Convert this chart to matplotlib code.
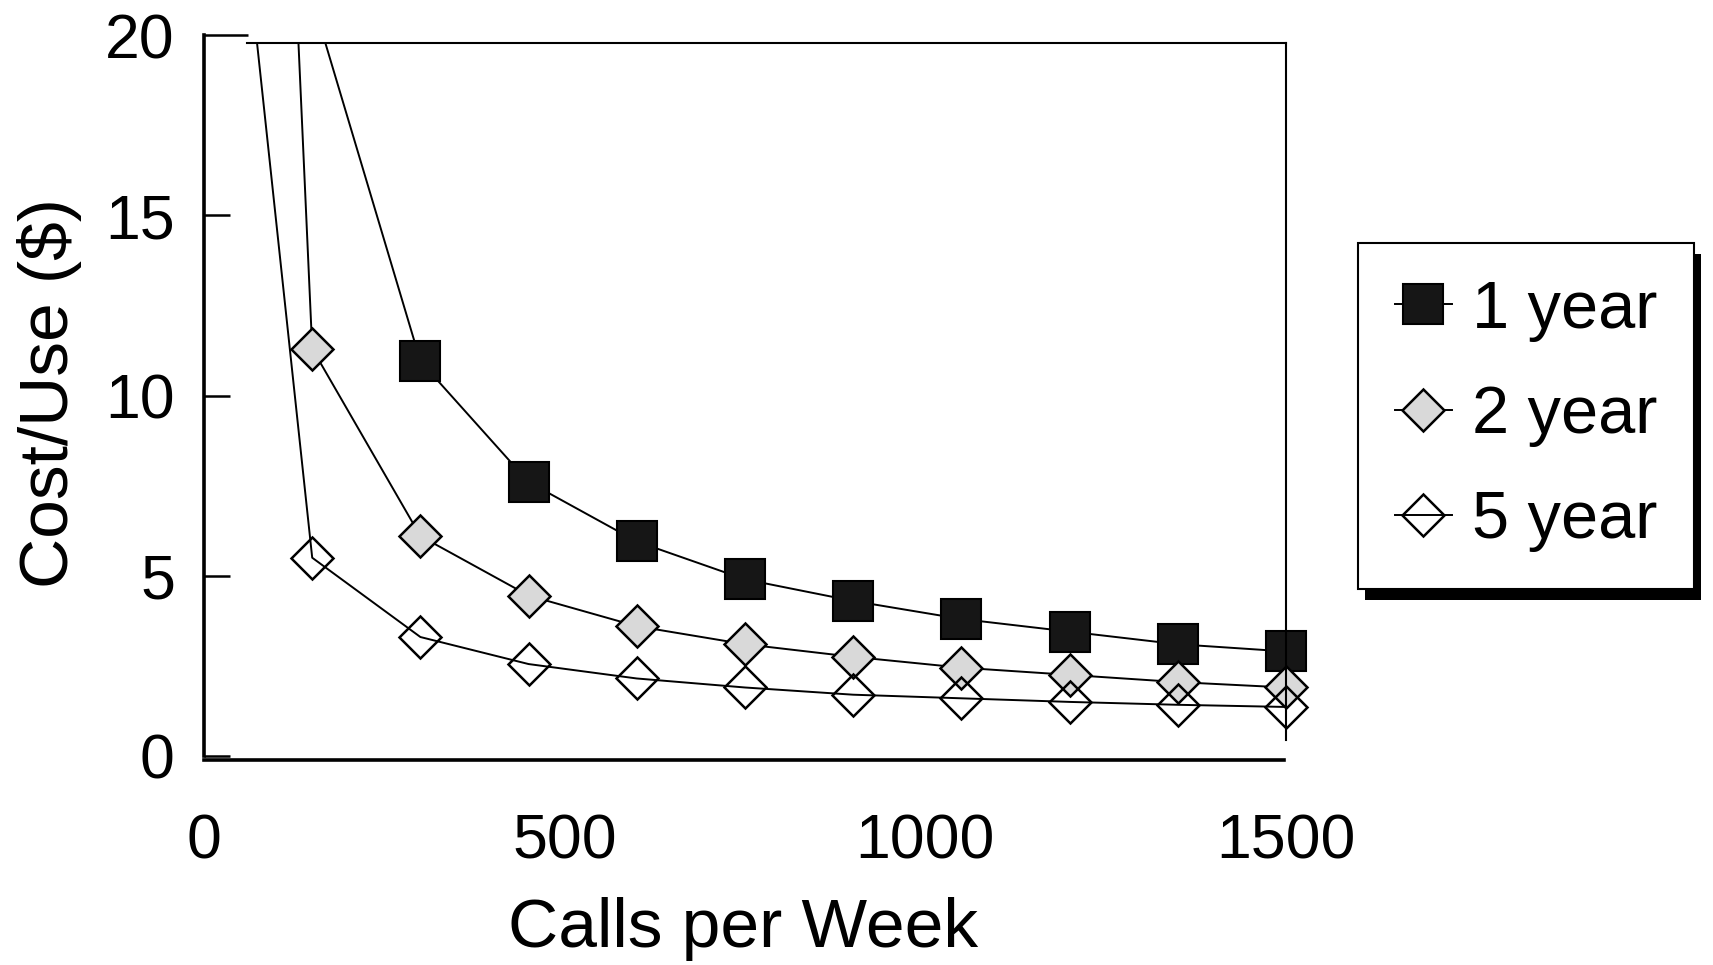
import matplotlib
matplotlib.use('Agg')
import matplotlib.pyplot as plt
from matplotlib.patches import Rectangle

plt.rcParams['font.family'] = ['Liberation Sans', 'DejaVu Sans']

# cost per use against weekly call volume, one series per amortisation period
calls = [0, 150, 300, 450, 600, 750, 900, 1050, 1200, 1350, 1500]
one_year = [155, 21.0, 10.95, 7.6, 5.95, 4.9, 4.3, 3.8, 3.45, 3.1, 2.9]
two_year = [78, 11.3, 6.1, 4.45, 3.6, 3.1, 2.75, 2.45, 2.25, 2.05, 1.9]
five_year = [33.5, 5.5, 3.3, 2.55, 2.15, 1.9, 1.7, 1.6, 1.5, 1.42, 1.36]
labels = ['1 year', '2 year', '5 year']

xticks = [0, 500, 1000, 1500]
yticks = [0, 5, 10, 15, 20]
top_edge = 19.78

fig = plt.figure(figsize=(17.13, 9.65), dpi=100)
ax = fig.add_axes([0.1191, 0.2166, 0.6316, 0.7471])

l1, = ax.plot(calls, one_year, color='black', lw=1.4, marker='s', ms=29,
              mfc='#161616', mec='black', mew=1.5, label=labels[0])
l2, = ax.plot(calls, two_year, color='black', lw=1.4, marker='D', ms=21,
              mfc='#d9d9d9', mec='black', mew=1.8, label=labels[1])
l3, = ax.plot(calls, five_year, color='black', lw=1.4, marker='D', ms=21,
              mfc='none', mec='black', mew=1.8, label=labels[2])

# cut the curves at the plot box top, but let the last markers overhang on the right
for ln in (l1, l2, l3):
    ln.set_clip_box(None)
    ln.set_clip_path(Rectangle((-200, -5), 1900, top_edge + 5, transform=ax.transData))

ax.set_xlim(0, 1500)
ax.set_ylim(0, 20)
ax.set_xticks(xticks)
ax.set_yticks(yticks)

ax.spines['top'].set_position(('data', top_edge))
ax.spines['top'].set_bounds(60, 1500)
ax.spines['top'].set_linewidth(1.5)
ax.spines['right'].set_bounds(0.44, top_edge)
ax.spines['right'].set_linewidth(1.5)
ax.spines['left'].set_bounds(0, 20)
ax.spines['left'].set_linewidth(2.6)
ax.spines['bottom'].set_position(('outward', 3))
ax.spines['bottom'].set_bounds(0, 1497)
ax.spines['bottom'].set_linewidth(2.6)

ax.tick_params(axis='y', direction='in', length=19, width=1.8, pad=21, labelsize=45)
ax.tick_params(axis='x', length=0, pad=38, labelsize=45)
ax.yaxis.get_major_ticks()[-1].tick1line.set_markersize(32)

ax.set_xlabel('Calls per Week', fontsize=50)
ax.xaxis.label.set_va('center')
ax.xaxis.set_label_coords(0.498, -0.240)
ax.set_ylabel('Cost/Use ($)', fontsize=50)
ax.yaxis.label.set_va('center')
ax.yaxis.set_label_coords(-0.143, 0.503)

leg = ax.legend(loc='upper left', bbox_to_anchor=(1358 / 1713, 1 - 243 / 965),
                bbox_transform=fig.transFigure, fontsize=48, frameon=True,
                fancybox=False, edgecolor='black', framealpha=1, borderpad=0.55,
                handlelength=0.86, handletextpad=0.3, labelspacing=0.65,
                borderaxespad=0)
leg.get_frame().set_linewidth(1.5)

# solid drop shadow under the legend box
fig.canvas.draw()
bb = leg.get_window_extent().transformed(fig.transFigure.inverted())
dx, dy = 7 / 1713, 11 / 965
ax.add_patch(Rectangle((bb.x0 + dx, bb.y0 - dy), bb.width, bb.height,
                       transform=fig.transFigure, facecolor='black',
                       edgecolor='none', clip_on=False, zorder=4.9))

fig.savefig('out.png', dpi=100)
